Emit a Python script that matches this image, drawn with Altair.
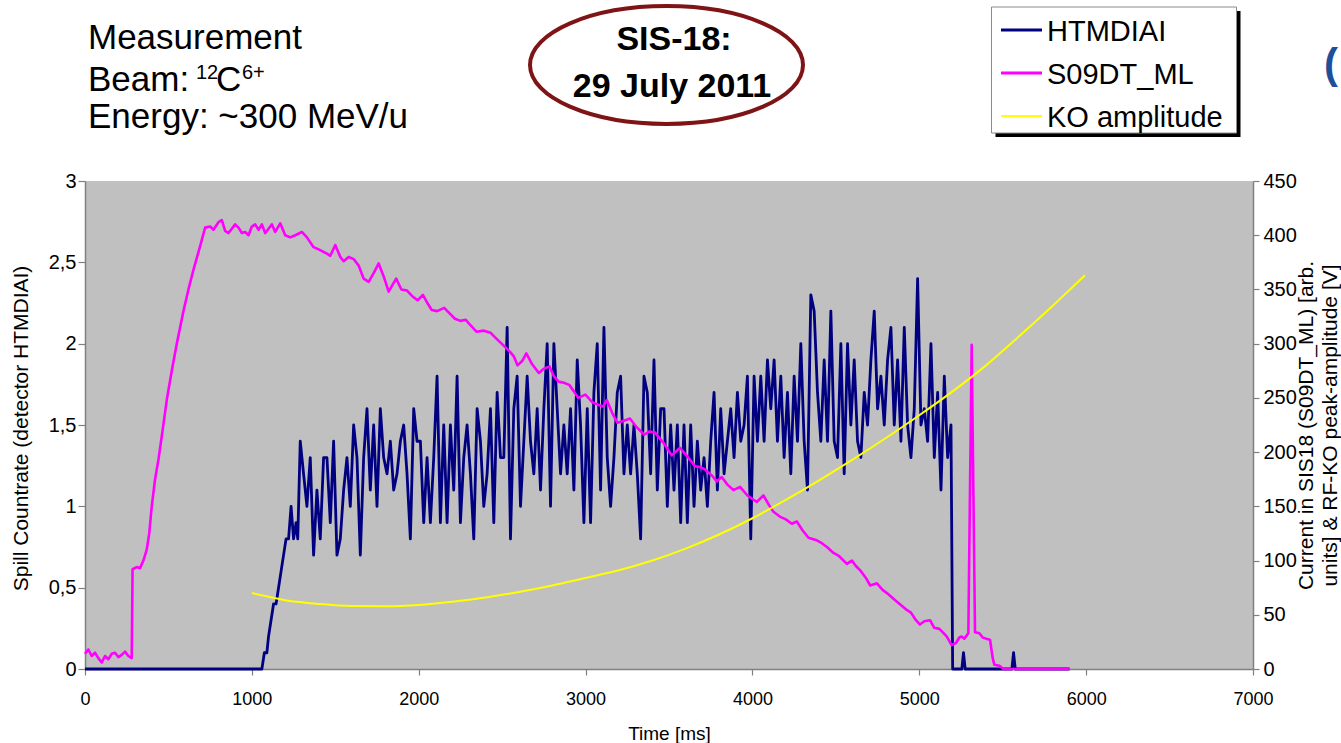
import altair as alt
import pandas as pd

FONT = "Liberation Sans"

# ---------------- data ----------------
# HTMDIAI spill countrate (left axis), rising edge
HTM_HEAD = [(0, 0), (1060, 0), (1075, 0.1), (1090, 0.1), (1100, 0.2), (1115, 0.3), (1130, 0.4),
            (1145, 0.4), (1160, 0.5), (1175, 0.6), (1190, 0.7), (1205, 0.8), (1220, 0.8),
            (1235, 1.0), (1250, 0.8), (1265, 0.9), (1275, 0.8)]
# HTMDIAI samples every 20 ms from 1290 ms
HTM_START = 1290
HTM_STEP = 20
HTM_A = [1.4, 1.2, 1.0, 1.3, 0.7, 1.1, 0.8, 1.3, 1.3, 0.9,
         1.4, 0.7, 0.8, 1.1, 1.3, 1.0, 1.5, 1.3, 0.7, 1.3,
         1.6, 1.1, 1.5, 1.0, 1.6, 1.3, 1.2, 1.4, 1.1, 1.2,
         1.4, 1.5, 1.2, 0.8, 1.6, 1.4, 1.4, 0.9, 1.3, 0.9,
         1.3, 1.8, 0.9, 1.5, 0.9, 1.5, 1.1, 1.8, 0.9, 1.3,
         1.5, 1.2, 0.8, 1.6, 1.4, 1.0, 1.2, 1.6, 0.9, 1.7,
         1.3, 1.3, 2.1, 0.8, 1.6, 1.8, 1.0, 1.4, 1.8, 1.4,
         1.2, 1.6, 1.1, 1.6, 2.0, 1.0, 2.0, 1.6, 1.2, 1.5,
         1.2, 1.6, 1.1, 1.9, 1.5, 0.9, 1.6, 0.9, 1.7, 2.0,
         1.1, 2.1, 1.3, 1.0, 1.3, 1.7]
HTM_B = [1.8, 1.2, 1.5, 1.2, 1.5, 1.2, 0.8, 1.8, 1.7, 1.2,
         1.9, 1.1, 1.6, 1.6, 1.0, 1.5, 1.1, 1.5, 0.9, 1.5,
         0.9, 1.5, 1.0, 1.4, 1.1, 1.3, 1.0, 1.4, 1.7, 1.1,
         1.6, 1.2, 1.4, 1.6, 1.3, 1.7, 1.4, 1.5, 1.8, 0.8,
         1.8, 1.4, 1.8, 1.4, 1.9, 1.6, 1.9, 1.4, 1.8, 1.3,
         1.7, 1.2, 1.8, 1.4, 2.0, 1.4, 1.1, 2.3, 2.2, 1.7,
         1.4, 1.9, 1.4, 2.2, 1.4, 1.3, 2.0, 1.2, 2.0, 1.5,
         1.9, 1.4, 1.3, 1.7, 1.5, 1.9, 2.2, 1.6, 1.8, 1.5,
         1.9, 2.1, 1.5, 1.9, 1.4, 2.1, 1.5, 1.3, 1.6, 2.4,
         1.5, 1.6, 1.4, 2.0, 1.3, 1.7, 1.1, 1.8, 1.3, 1.5]
HTM_TAIL = [(5200, 0), (5255, 0), (5265, 0.1), (5275, 0), (5555, 0), (5565, 0.1), (5575, 0), (5900, 0)]

# S09DT_ML current (right axis)
MAG = [(0, 14), (20, 18), (40, 12), (60, 15), (80, 10), (100, 6), (120, 12), (140, 9), (160, 14), (180, 15),
       (200, 11), (220, 13), (240, 16), (260, 12), (280, 10), (285, 92), (310, 94), (330, 93), (350, 100), (370, 110),
       (385, 125), (400, 150), (420, 175), (440, 193), (465, 220), (490, 248), (520, 275), (550, 300), (590, 330), (620, 350),
       (650, 368), (690, 390), (720, 407), (750, 408), (770, 405), (800, 412), (820, 414), (840, 404), (860, 402), (880, 406),
       (900, 410), (920, 407), (940, 402), (960, 403), (980, 400), (1000, 408), (1020, 410), (1040, 405), (1060, 410), (1080, 402),
       (1100, 406), (1120, 410), (1140, 403), (1170, 411), (1200, 400), (1230, 398), (1260, 400), (1300, 403), (1330, 398), (1370, 389),
       (1400, 387), (1450, 383), (1470, 381), (1500, 391), (1530, 380), (1550, 376), (1580, 380), (1610, 378), (1640, 372), (1670, 360),
       (1700, 357), (1730, 365), (1760, 374), (1790, 362), (1820, 348), (1850, 356), (1865, 360), (1896, 350), (1930, 349), (1960, 344),
       (1993, 340), (2025, 345), (2050, 338), (2078, 331), (2110, 330), (2153, 333), (2185, 328), (2217, 323), (2250, 321), (2282, 322),
       (2310, 317), (2346, 311), (2390, 312), (2431, 310), (2470, 304), (2517, 297), (2550, 292), (2571, 288), (2592, 280), (2620, 284),
       (2645, 291), (2680, 281), (2720, 273), (2750, 277), (2784, 279), (2810, 270), (2838, 265), (2870, 264), (2902, 262), (2930, 256),
       (2956, 250), (2999, 253), (3040, 246), (3086, 243), (3106, 242), (3127, 248), (3160, 236), (3191, 227), (3230, 229), (3266, 231),
       (3306, 223), (3352, 216), (3380, 219), (3416, 218), (3470, 208), (3516, 197), (3545, 201), (3566, 204), (3620, 194), (3656, 187),
       (3690, 186), (3716, 184), (3760, 178), (3786, 173), (3816, 177), (3850, 170), (3886, 165), (3926, 168), (3970, 160), (4026, 154),
       (4066, 160), (4100, 151), (4126, 145), (4170, 140), (4200, 138), (4236, 134), (4266, 136), (4300, 128), (4336, 121), (4380, 119),
       (4416, 116), (4450, 112), (4486, 107), (4520, 104), (4566, 97), (4596, 100), (4620, 95), (4646, 91), (4680, 84), (4706, 77),
       (4746, 79), (4780, 73), (4806, 70), (4866, 62), (4920, 55), (4950, 52), (4980, 45), (5004, 41), (5030, 44), (5064, 45),
       (5090, 38), (5120, 37), (5140, 34), (5164, 30), (5194, 22), (5220, 24), (5240, 29), (5254, 30), (5270, 28), (5294, 33),
       (5314, 299), (5334, 34), (5360, 33), (5380, 29), (5400, 28), (5424, 27), (5440, 10), (5450, 4), (5480, 3), (5504, 0),
       (5903, 0)]

# KO amplitude (right axis)
KO = [(1000, 70), (1200, 63.5), (1400, 60), (1600, 58), (1800, 57.8), (2000, 59), (2200, 62), (2400, 66),
      (2600, 71), (2800, 77), (3000, 84), (3200, 91), (3400, 100), (3600, 111), (3800, 124), (4000, 139),
      (4200, 156), (4400, 174), (4600, 193), (4800, 213), (5000, 234), (5200, 256), (5400, 280), (5600, 307),
      (5800, 335), (5993, 363)]

X_TICKS = [0, 1000, 2000, 3000, 4000, 5000, 6000, 7000]
Y_LEFT_TICKS = [0, 0.5, 1, 1.5, 2, 2.5, 3]
Y_RIGHT_TICKS = [0, 50, 100, 150, 200, 250, 300, 350, 400, 450]

LEGEND = ["HTMDIAI", "S09DT_ML", "KO amplitude"]
COLORS = ["#000080", "#FF00FF", "#FFFF00"]

# ---------------- frames ----------------
htm_vals = HTM_A + HTM_B
htm_rows = list(HTM_HEAD) + [(HTM_START + HTM_STEP * i, v) for i, v in enumerate(htm_vals)] + list(HTM_TAIL)
df_htm = pd.DataFrame(htm_rows, columns=["t", "v"])
df_mag = pd.DataFrame(MAG, columns=["t", "v"])
df_ko = pd.DataFrame(KO, columns=["t", "v"])

OX, OY = 85, 181  # plot origin on the page

xenc = alt.X("t:Q", scale=alt.Scale(domain=[0, 7000], nice=False),
             axis=alt.Axis(values=X_TICKS, title="Time [ms]", format="d", labelFlush=False,
                           labelOverlap=False, tickSize=6, labelPadding=15, labelFontSize=18,
                           titleFontSize=19, titleY=64, titleBaseline="middle"))

navy = alt.Chart(df_htm).mark_line(color=COLORS[0], strokeWidth=2.8, strokeJoin="round").encode(
    x=xenc,
    y=alt.Y("v:Q", scale=alt.Scale(domain=[0, 3], nice=False),
            axis=alt.Axis(values=Y_LEFT_TICKS, orient="left",
                          labelExpr="replace(format(datum.value, '~g'), '.', ',')",
                          title="Spill Countrate (detector HTMDIAI)", tickSize=7, labelPadding=2,
                          labelOverlap=False, titleAngle=270, titleX=-64, titleY=247,
                          titleAlign="center", titleBaseline="middle")),
)

right_axis = alt.Axis(values=Y_RIGHT_TICKS, orient="right", labelOverlap=False,
                      title=["Current in SIS18 (S09DT_ML) [arb.", "units] & RF-KO peak-amplitude [V]"],
                      tickSize=6, labelPadding=4, titleAngle=270, titleX=53, titleY=244,
                      titleAlign="center", titleBaseline="middle", titleLineHeight=24)
yright = alt.Y("v:Q", scale=alt.Scale(domain=[0, 450], nice=False), axis=right_axis)

mag = alt.Chart(df_mag).mark_line(color=COLORS[1], strokeWidth=2.6, strokeJoin="round").encode(x=xenc, y=yright)
ko = alt.Chart(df_ko).mark_line(color=COLORS[2], strokeWidth=2, interpolate="monotone").encode(x=xenc, y=yright)
right = alt.layer(mag, ko)

one = pd.DataFrame({"k": [0]})


def txt(s, px, py, size, weight="normal", align="left", color="black"):
    return alt.Chart(one).mark_text(text=s, fontSize=size, fontWeight=weight, align=align,
                                    baseline="alphabetic", color=color, font=FONT).encode(
        x=alt.value(px - OX), y=alt.value(py - OY))


def rect(x1, y1, x2, y2, **kw):
    return alt.Chart(one).mark_rect(**kw).encode(
        x=alt.value(x1 - OX), x2=alt.value(x2 - OX), y=alt.value(y1 - OY), y2=alt.value(y2 - OY))


def rule(x1, x2, y, color, w):
    return alt.Chart(one).mark_rule(color=color, strokeWidth=w).encode(
        x=alt.value(x1 - OX), x2=alt.value(x2 - OX), y=alt.value(y - OY))


ELLIPSE = ("M -1 0 C -1 -0.2387 -0.5523 -0.432 0 -0.432 C 0.5523 -0.432 1 -0.2387 1 0 "
           "C 1 0.2387 0.5523 0.432 0 0.432 C -0.5523 0.432 -1 0.2387 -1 0 Z")
ellipse = alt.Chart(one).mark_point(shape=ELLIPSE, size=273 * 273, filled=False, stroke="#7F1416",
                                    strokeWidth=4, opacity=1).encode(
    x=alt.value(666.5 - OX), y=alt.value(65 - OY))

annotations = [
    txt("Measurement", 88, 49, 35),
    txt("Beam:", 88, 91, 35),
    txt("12", 196, 79, 20),
    txt("C", 216, 91, 35),
    txt("6+", 242, 79, 20),
    txt("Energy: ~300 MeV/u", 88, 128, 35),
    ellipse,
    txt("SIS-18:", 674, 50, 34, weight="bold", align="center"),
    txt("29 July 2011", 672, 97, 34, weight="bold", align="center"),
    rect(995.5, 11, 1240.5, 137, color="black"),
    rect(991.5, 7, 1236.5, 133, fill="white", stroke="#8c8c8c", strokeWidth=1),
    rule(1001, 1042, 30, COLORS[0], 3),
    rule(1001, 1042, 73, COLORS[1], 3),
    rule(1001, 1042, 116, COLORS[2], 2),
    txt(LEGEND[0], 1047, 40.5, 29),
    txt(LEGEND[1], 1047, 83.5, 29),
    txt(LEGEND[2], 1047, 126.5, 29),
    txt("(", 1324, 78, 42, weight="bold", color="#1F4E9A"),
]

chart = alt.layer(navy, right, *annotations).resolve_scale(y="independent").properties(
    width=1168, height=488,
    padding={"left": 85, "top": 181, "right": 88, "bottom": 74},
    autosize=alt.AutoSizeParams(type="none"),
).configure(background="white").configure_view(
    fill="#C0C0C0", strokeWidth=0
).configure_axis(
    grid=False, domainColor="#808080", domainWidth=1.5, tickColor="#808080", tickWidth=1.2,
    labelFont=FONT, titleFont=FONT, labelFontSize=20, titleFontSize=21,
    titleFontWeight="normal", labelColor="black", titleColor="black",
)

chart.save("out.html", embed_options={"renderer": "svg", "actions": False})
